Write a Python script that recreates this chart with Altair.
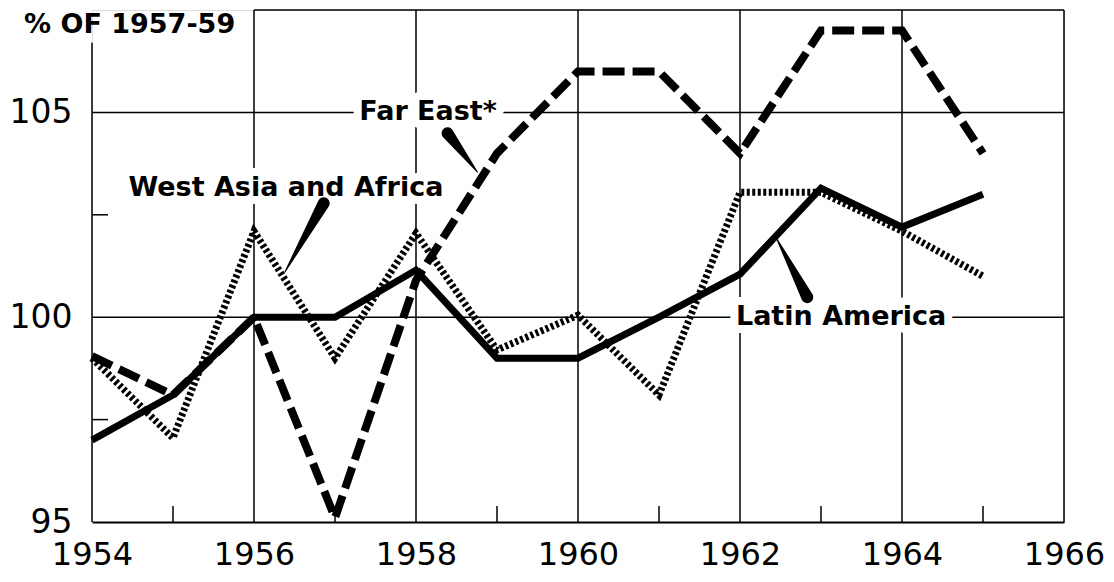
import altair as alt
import pandas as pd

# ---- data ----
years = list(range(1954, 1966))
latin_america = [97.0, 98.1, 100.0, 100.0, 101.15, 99.0, 99.0, 100.0, 101.05, 103.15, 102.2, 103.0]
west_asia_africa = [99.0, 97.05, 102.1, 99.0, 102.05, 99.2, 100.05, 98.1, 103.05, 103.05, 102.1, 101.0]
far_east = [99.05, 98.1, 100.0, 95.1, 100.9, 104.0, 106.0, 106.0, 104.0, 107.0, 107.0, 104.0]

x_labels = [1954, 1956, 1958, 1960, 1962, 1964, 1966]
y_labels = [95, 100, 105]
grid_x = [1956, 1958, 1960, 1962, 1964, 1966]
grid_y = [100, 105]
minor_x = [1955, 1957, 1959, 1961, 1963, 1965]
minor_y = [97.5, 102.5]

# frame pieces (top border from 1956, left border stopping below the title)
frame_x = [1956, 1954]
frame_x2 = [1966, 1954]
frame_y = [107.5, 95]
frame_y2 = [107.5, 106.7]

# series labels
label_text = ["Far East*", "West Asia and Africa", "Latin America"]
label_x = [1957.3, 1954.45, 1961.95]
label_y = [105.0, 103.15, 100.0]

# pointer wedges: wide end -> tip
ptr_id = ["fe", "fe", "wa", "wa", "la", "la"]
ptr_x = [1958.39, 1958.76, 1956.86, 1956.38, 1962.83, 1962.45]
ptr_y = [104.49, 103.54, 102.78, 101.10, 100.49, 101.93]
ptr_w = [12, 0, 12, 0, 12, 0]

W, H = 972, 512
xs = alt.Scale(domain=[1954, 1966], nice=False, zero=False)
ys = alt.Scale(domain=[95, 107.5], nice=False, zero=False)

series = pd.DataFrame({"year": years, "la": latin_america, "wa": west_asia_africa, "fe": far_east})
gx = pd.DataFrame({"x": grid_x})
gy = pd.DataFrame({"y": grid_y})
mx = pd.DataFrame({"x": minor_x})
my = pd.DataFrame({"y": minor_y})
frame = pd.DataFrame({"x": frame_x, "x2": frame_x2, "y": frame_y, "y2": frame_y2})
labels = pd.DataFrame({"t": label_text, "x": label_x, "y": label_y})
ptr = pd.DataFrame({"id": ptr_id, "x": ptr_x, "y": ptr_y, "w": ptr_w, "o": list(range(len(ptr_id)))})

FONT = "DejaVu Sans"

base_axes = alt.Chart(series).mark_point(opacity=0).encode(
    x=alt.X("year:Q", scale=xs, title=None,
            axis=alt.Axis(values=x_labels, format="d", grid=False, ticks=False,
                          domain=True, domainColor="black", domainWidth=2,
                          labelFont=FONT, labelFontSize=32, labelFontWeight="normal",
                          labelColor="black", labelPadding=17, labelFlush=False)),
    y=alt.Y("la:Q", scale=ys, title=None,
            axis=alt.Axis(values=y_labels, grid=False, ticks=False, domain=False,
                          labelFont=FONT, labelFontSize=33, labelFontWeight="normal",
                          labelColor="black", labelPadding=20, labelFlush=False)),
)

vgrid = alt.Chart(gx).mark_rule(color="black", strokeWidth=1.5).encode(
    x=alt.X("x:Q", scale=xs), y=alt.datum(95, scale=ys), y2=alt.datum(107.5))
hgrid = alt.Chart(gy).mark_rule(color="black", strokeWidth=1.5).encode(
    y=alt.Y("y:Q", scale=ys), x=alt.datum(1954, scale=xs), x2=alt.datum(1966))
frame_l = alt.Chart(frame).mark_rule(color="black", strokeWidth=1.5).encode(
    x=alt.X("x:Q", scale=xs), x2="x2:Q", y=alt.Y("y:Q", scale=ys), y2="y2:Q")
mticks_x = alt.Chart(mx).mark_rule(color="black", strokeWidth=1.5).encode(
    x=alt.X("x:Q", scale=xs), y=alt.datum(95, scale=ys), y2=alt.value(H - 16))
mticks_y = alt.Chart(my).mark_rule(color="black", strokeWidth=1.5).encode(
    y=alt.Y("y:Q", scale=ys), x=alt.datum(1954, scale=xs), x2=alt.value(16))


def label_layer(halo):
    kw = dict(align="left", baseline="middle", font=FONT, fontSize=27, fontWeight="bold")
    if halo:
        kw.update(stroke="white", strokeWidth=16, color="white", strokeJoin="round")
    else:
        kw.update(color="black")
    return alt.Chart(labels).mark_text(**kw).encode(
        x=alt.X("x:Q", scale=xs), y=alt.Y("y:Q", scale=ys), text="t:N")


line_la = alt.Chart(series).mark_line(color="black", strokeWidth=7, strokeJoin="miter").encode(
    x=alt.X("year:Q", scale=xs), y=alt.Y("la:Q", scale=ys))
line_wa = alt.Chart(series).mark_line(color="black", strokeWidth=7, strokeDash=[3, 2.5],
                                      strokeJoin="miter").encode(
    x=alt.X("year:Q", scale=xs), y=alt.Y("wa:Q", scale=ys))
line_fe = alt.Chart(series).mark_line(color="black", strokeWidth=8, strokeDash=[22, 8],
                                      strokeJoin="miter").encode(
    x=alt.X("year:Q", scale=xs), y=alt.Y("fe:Q", scale=ys))

pointers = alt.Chart(ptr).mark_trail(color="black").encode(
    x=alt.X("x:Q", scale=xs), y=alt.Y("y:Q", scale=ys),
    size=alt.Size("w:Q", scale=None), detail="id:N", order="o:Q")

title = alt.Chart(pd.DataFrame({"t": ["% OF 1957-59"]})).mark_text(
    align="left", baseline="middle", font=FONT, fontSize=27, fontWeight="bold", color="black"
).encode(x=alt.value(-68), y=alt.value(15), text="t:N")

chart = alt.layer(
    base_axes, vgrid, hgrid, frame_l, mticks_x, mticks_y,
    label_layer(True), label_layer(False),
    line_wa, line_la, line_fe, pointers, title,
).properties(
    width=W, height=H,
    autosize=alt.AutoSizeParams(type="none"),
    padding={"left": 84, "top": 2, "right": 42, "bottom": 52},
).configure_view(stroke=None).configure(background="white")

chart.save("out.html", embed_options={"renderer": "svg", "actions": False})
